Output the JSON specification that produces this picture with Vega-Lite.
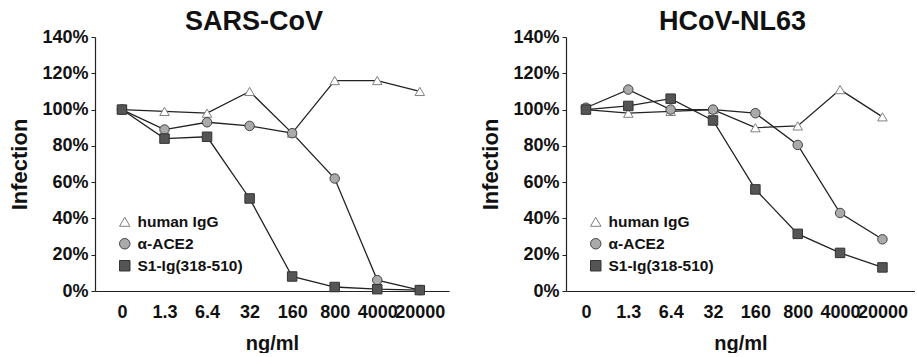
{
  "$schema": "https://vega.github.io/schema/vega-lite/v6.json",
  "padding": {"left": 8, "top": 8, "right": 0, "bottom": 0},
  "config": {
    "font": "Liberation Sans",
    "view": {"stroke": null},
    "axis": {"grid": false, "domainColor": "#222", "domainWidth": 1.2, "tickColor": "#222", "labelFont": "Liberation Sans", "labelFontWeight": "bold", "labelFontSize": 18, "labelColor": "#111", "titleFont": "Liberation Sans", "titleFontSize": 22, "titleFontWeight": "bold", "titleColor": "#111"},
    "title": {"font": "Liberation Sans", "fontSize": 27, "fontWeight": "bold", "color": "#111"}
  },
  "datasets": {
    "d": [
      {"panel": "SARS-CoV", "series": "human IgG", "conc": "0", "value": 100},
      {"panel": "SARS-CoV", "series": "human IgG", "conc": "1.3", "value": 99},
      {"panel": "SARS-CoV", "series": "human IgG", "conc": "6.4", "value": 98},
      {"panel": "SARS-CoV", "series": "human IgG", "conc": "32", "value": 110},
      {"panel": "SARS-CoV", "series": "human IgG", "conc": "160", "value": 87},
      {"panel": "SARS-CoV", "series": "human IgG", "conc": "800", "value": 116},
      {"panel": "SARS-CoV", "series": "human IgG", "conc": "4000", "value": 116},
      {"panel": "SARS-CoV", "series": "human IgG", "conc": "20000", "value": 110},
      {"panel": "SARS-CoV", "series": "α-ACE2", "conc": "0", "value": 100},
      {"panel": "SARS-CoV", "series": "α-ACE2", "conc": "1.3", "value": 89},
      {"panel": "SARS-CoV", "series": "α-ACE2", "conc": "6.4", "value": 93},
      {"panel": "SARS-CoV", "series": "α-ACE2", "conc": "32", "value": 91},
      {"panel": "SARS-CoV", "series": "α-ACE2", "conc": "160", "value": 87},
      {"panel": "SARS-CoV", "series": "α-ACE2", "conc": "800", "value": 62},
      {"panel": "SARS-CoV", "series": "α-ACE2", "conc": "4000", "value": 6},
      {"panel": "SARS-CoV", "series": "α-ACE2", "conc": "20000", "value": 0.5},
      {"panel": "SARS-CoV", "series": "S1-Ig(318-510)", "conc": "0", "value": 100},
      {"panel": "SARS-CoV", "series": "S1-Ig(318-510)", "conc": "1.3", "value": 84},
      {"panel": "SARS-CoV", "series": "S1-Ig(318-510)", "conc": "6.4", "value": 85},
      {"panel": "SARS-CoV", "series": "S1-Ig(318-510)", "conc": "32", "value": 51},
      {"panel": "SARS-CoV", "series": "S1-Ig(318-510)", "conc": "160", "value": 8},
      {"panel": "SARS-CoV", "series": "S1-Ig(318-510)", "conc": "800", "value": 2.2},
      {"panel": "SARS-CoV", "series": "S1-Ig(318-510)", "conc": "4000", "value": 1},
      {"panel": "SARS-CoV", "series": "S1-Ig(318-510)", "conc": "20000", "value": 0.5},
      {"panel": "HCoV-NL63", "series": "human IgG", "conc": "0", "value": 100},
      {"panel": "HCoV-NL63", "series": "human IgG", "conc": "1.3", "value": 98},
      {"panel": "HCoV-NL63", "series": "human IgG", "conc": "6.4", "value": 99},
      {"panel": "HCoV-NL63", "series": "human IgG", "conc": "32", "value": 100},
      {"panel": "HCoV-NL63", "series": "human IgG", "conc": "160", "value": 90},
      {"panel": "HCoV-NL63", "series": "human IgG", "conc": "800", "value": 91},
      {"panel": "HCoV-NL63", "series": "human IgG", "conc": "4000", "value": 111},
      {"panel": "HCoV-NL63", "series": "human IgG", "conc": "20000", "value": 96},
      {"panel": "HCoV-NL63", "series": "α-ACE2", "conc": "0", "value": 101},
      {"panel": "HCoV-NL63", "series": "α-ACE2", "conc": "1.3", "value": 111},
      {"panel": "HCoV-NL63", "series": "α-ACE2", "conc": "6.4", "value": 100},
      {"panel": "HCoV-NL63", "series": "α-ACE2", "conc": "32", "value": 100},
      {"panel": "HCoV-NL63", "series": "α-ACE2", "conc": "160", "value": 98},
      {"panel": "HCoV-NL63", "series": "α-ACE2", "conc": "800", "value": 80.5},
      {"panel": "HCoV-NL63", "series": "α-ACE2", "conc": "4000", "value": 43},
      {"panel": "HCoV-NL63", "series": "α-ACE2", "conc": "20000", "value": 28.5},
      {"panel": "HCoV-NL63", "series": "S1-Ig(318-510)", "conc": "0", "value": 100},
      {"panel": "HCoV-NL63", "series": "S1-Ig(318-510)", "conc": "1.3", "value": 102},
      {"panel": "HCoV-NL63", "series": "S1-Ig(318-510)", "conc": "6.4", "value": 106},
      {"panel": "HCoV-NL63", "series": "S1-Ig(318-510)", "conc": "32", "value": 94},
      {"panel": "HCoV-NL63", "series": "S1-Ig(318-510)", "conc": "160", "value": 56},
      {"panel": "HCoV-NL63", "series": "S1-Ig(318-510)", "conc": "800", "value": 31.5},
      {"panel": "HCoV-NL63", "series": "S1-Ig(318-510)", "conc": "4000", "value": 21},
      {"panel": "HCoV-NL63", "series": "S1-Ig(318-510)", "conc": "20000", "value": 13}
    ]
  },
  "spacing": 30,
  "hconcat": [
    {
      "width": 354,
      "height": 254,
      "title": {"text": "SARS-CoV", "dx": -18, "offset": -8},
      "data": {"name": "d"},
      "transform": [{"filter": "datum.panel === 'SARS-CoV'"}],
      "encoding": {
        "x": {"field": "conc", "type": "ordinal", "sort": ["0", "1.3", "6.4", "32", "160", "800", "4000", "20000"], "scale": {"type": "point", "padding": 0.66, "align": 0.48}, "axis": {"title": "ng/ml", "labelAngle": 0, "ticks": false, "labelPadding": 12, "titlePadding": 12, "titleFontSize": 20}},
        "y": {"field": "value", "type": "quantitative", "scale": {"domain": [0, 140], "nice": false}, "axis": {"title": "Infection", "values": [0, 20, 40, 60, 80, 100, 120, 140], "labelExpr": "datum.value + '%'", "tickSize": 4, "labelPadding": 3, "titlePadding": 10}}
      },
      "layer": [
        {"mark": {"type": "line", "color": "#222", "strokeWidth": 1.3}, "encoding": {"detail": {"field": "series"}}},
        {
          "mark": {"type": "point", "filled": true, "opacity": 1, "size": 90, "strokeWidth": 1},
          "encoding": {
            "shape": {"field": "series", "type": "nominal", "scale": {"domain": ["human IgG", "α-ACE2", "S1-Ig(318-510)"], "range": ["triangle-up", "circle", "square"]}, "legend": {"title": null, "orient": "none", "legendX": 22, "legendY": 177, "labelFontSize": 15.5, "labelFontWeight": "bold", "labelColor": "#111", "labelFont": "Liberation Sans", "symbolSize": 110, "symbolStrokeWidth": 1, "rowPadding": 5, "labelOffset": 5}},
            "fill": {"field": "series", "type": "nominal", "scale": {"domain": ["human IgG", "α-ACE2", "S1-Ig(318-510)"], "range": ["#ffffff", "#aaaaaa", "#555555"]}, "legend": {"title": null, "orient": "none", "legendX": 22, "legendY": 177, "labelFontSize": 15.5, "labelFontWeight": "bold", "labelColor": "#111", "labelFont": "Liberation Sans", "symbolSize": 110, "symbolStrokeWidth": 1, "rowPadding": 5, "labelOffset": 5}},
            "stroke": {"field": "series", "type": "nominal", "scale": {"domain": ["human IgG", "α-ACE2", "S1-Ig(318-510)"], "range": ["#808080", "#444444", "#333333"]}, "legend": {"title": null, "orient": "none", "legendX": 22, "legendY": 177, "labelFontSize": 15.5, "labelFontWeight": "bold", "labelColor": "#111", "labelFont": "Liberation Sans", "symbolSize": 110, "symbolStrokeWidth": 1, "rowPadding": 5, "labelOffset": 5}}
          }
        }
      ]
    },
    {
      "width": 349,
      "height": 254,
      "title": {"text": "HCoV-NL63", "dx": -8, "offset": -8},
      "data": {"name": "d"},
      "transform": [{"filter": "datum.panel === 'HCoV-NL63'"}],
      "encoding": {
        "x": {"field": "conc", "type": "ordinal", "sort": ["0", "1.3", "6.4", "32", "160", "800", "4000", "20000"], "scale": {"type": "point", "padding": 0.62, "align": 0.38}, "axis": {"title": "ng/ml", "labelAngle": 0, "ticks": false, "labelPadding": 12, "titlePadding": 12, "titleFontSize": 20}},
        "y": {"field": "value", "type": "quantitative", "scale": {"domain": [0, 140], "nice": false}, "axis": {"title": "Infection", "values": [0, 20, 40, 60, 80, 100, 120, 140], "labelExpr": "datum.value + '%'", "tickSize": 4, "labelPadding": 3, "titlePadding": 10}}
      },
      "layer": [
        {"mark": {"type": "line", "color": "#222", "strokeWidth": 1.3}, "encoding": {"detail": {"field": "series"}}},
        {
          "mark": {"type": "point", "filled": true, "opacity": 1, "size": 90, "strokeWidth": 1},
          "encoding": {
            "shape": {"field": "series", "type": "nominal", "scale": {"domain": ["human IgG", "α-ACE2", "S1-Ig(318-510)"], "range": ["triangle-up", "circle", "square"]}, "legend": {"title": null, "orient": "none", "legendX": 22, "legendY": 177, "labelFontSize": 15.5, "labelFontWeight": "bold", "labelColor": "#111", "labelFont": "Liberation Sans", "symbolSize": 110, "symbolStrokeWidth": 1, "rowPadding": 5, "labelOffset": 5}},
            "fill": {"field": "series", "type": "nominal", "scale": {"domain": ["human IgG", "α-ACE2", "S1-Ig(318-510)"], "range": ["#ffffff", "#aaaaaa", "#555555"]}, "legend": {"title": null, "orient": "none", "legendX": 22, "legendY": 177, "labelFontSize": 15.5, "labelFontWeight": "bold", "labelColor": "#111", "labelFont": "Liberation Sans", "symbolSize": 110, "symbolStrokeWidth": 1, "rowPadding": 5, "labelOffset": 5}},
            "stroke": {"field": "series", "type": "nominal", "scale": {"domain": ["human IgG", "α-ACE2", "S1-Ig(318-510)"], "range": ["#808080", "#444444", "#333333"]}, "legend": {"title": null, "orient": "none", "legendX": 22, "legendY": 177, "labelFontSize": 15.5, "labelFontWeight": "bold", "labelColor": "#111", "labelFont": "Liberation Sans", "symbolSize": 110, "symbolStrokeWidth": 1, "rowPadding": 5, "labelOffset": 5}}
          }
        }
      ]
    }
  ],
  "resolve": {"scale": {"shape": "independent", "fill": "independent", "stroke": "independent"}, "legend": {"shape": "independent", "fill": "independent", "stroke": "independent"}}
}
